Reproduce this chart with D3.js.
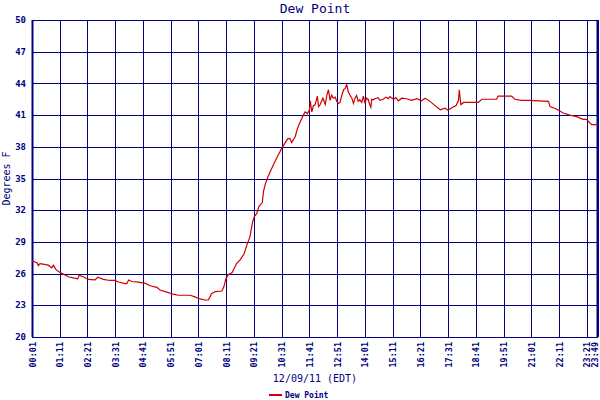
<!DOCTYPE html>
<html>
<head>
<meta charset="utf-8">
<script src="https://cdn.jsdelivr.net/npm/d3@7"></script>
<style>
  body { margin: 0; background: #fff; }
  text { font-family: "DejaVu Sans Mono", monospace; fill: #000080; }
</style>
</head>
<body>
<script>
// readings, time of day (EDT) and dew point in F
var times = ["00:01","00:09","00:14","00:17","00:21","00:29","00:42","00:51","00:55","01:02",
  "01:12","01:20","01:33","01:45","01:56","02:00","02:10","02:23","02:40","02:47",
  "03:01","03:18","03:30","03:39","03:56","04:00","04:05","04:13","04:29","04:46",
  "04:59","05:16","05:24","05:41","05:57","06:10","06:40","06:52","07:05","07:17",
  "07:26","07:34","07:43","08:00","08:05","08:10","08:16","08:26","08:37","08:46",
  "08:56","09:03","09:11","09:17","09:22","09:28","09:34","09:42","09:45","09:49",
  "09:56","10:04","10:14","10:22","10:31","10:39","10:46","10:52","10:56","11:05",
  "11:11","11:17","11:24","11:30","11:36","11:41","11:43","11:47","11:51","11:55",
  "12:01","12:04","12:08","12:15","12:21","12:25","12:29","12:33","12:37","12:41",
  "12:46","12:50","12:54","12:58","13:03","13:07","13:11","13:15","13:19","13:23",
  "13:28","13:32","13:36","13:40","13:44","13:48","13:53","13:57","14:01","14:05",
  "14:09","14:13","14:16","14:18","14:22","14:26","14:34","14:39","14:47","14:54",
  "15:00","15:04","15:13","15:19","15:25","15:34","15:46","15:59","16:12","16:24",
  "16:33","16:45","16:58","17:11","17:23","17:31","17:40","17:51","17:57","17:59",
  "18:03","18:10","18:47","18:56","19:33","19:37","20:11","20:19","20:36","20:57",
  "21:18","21:44","21:48","22:05","22:21","22:38","22:55","23:11","23:20","23:33",
  "23:49"];
var dewPoint = [27.2,27.1,27.0,26.75,26.95,26.9,26.8,26.55,26.8,26.35,
  26.1,25.95,25.7,25.6,25.5,25.85,25.7,25.45,25.4,25.65,
  25.45,25.35,25.35,25.2,25.05,25.05,25.4,25.25,25.2,25.1,
  24.85,24.7,24.45,24.25,24.05,23.95,23.95,23.8,23.6,23.5,
  23.5,24.1,24.3,24.35,24.75,25.5,25.9,26.1,26.95,27.3,
  27.85,28.7,29.5,30.8,31.4,31.7,32.4,32.7,33.75,34.4,
  35.15,35.8,36.6,37.2,37.85,38.35,38.75,38.8,38.4,38.95,
  39.75,40.3,40.9,41.3,41.15,41.5,42.35,41.3,41.9,41.95,
  42.8,41.8,42.0,42.6,42.0,42.9,43.4,42.4,42.9,42.6,
  42.7,42.3,42.1,42.2,42.9,43.4,43.5,43.9,43.2,42.9,
  42.6,42.1,42.6,42.85,42.3,42.45,42.2,42.8,42.1,42.6,
  42.5,42.0,41.75,42.5,42.45,42.55,42.65,42.4,42.5,42.7,
  42.55,42.75,42.5,42.65,42.35,42.6,42.55,42.4,42.55,42.35,
  42.6,42.3,41.9,41.5,41.65,41.45,41.7,41.9,42.4,43.4,
  42.0,42.2,42.2,42.5,42.5,42.8,42.8,42.5,42.4,42.4,
  42.35,42.3,41.8,41.55,41.2,41.0,40.85,40.6,40.6,40.1,
  40.1];

var xTicks = ["00:01","01:11","02:21","03:31","04:41","05:51","07:01","08:11","09:21","10:31",
  "11:41","12:51","14:01","15:11","16:21","17:31","18:41","19:51","21:01","22:11",
  "23:21","23:49"];
var yTicks = [20,23,26,29,32,35,38,41,44,47,50];

var navy = "#000080", red = "#cc0000";

function mins(t) { var p = t.split(":"); return +p[0] * 60 + +p[1]; }

var data = times.map(function(t, i) { return {t: mins(t), v: dewPoint[i]}; });

var margin = {top: 20, right: 2, bottom: 63, left: 32},
    width = 600 - margin.left - margin.right,
    height = 400 - margin.top - margin.bottom;

var x = d3.scaleLinear()
    .domain([mins(xTicks[0]), mins(xTicks[xTicks.length - 1])])
    .range([0, width]);

var y = d3.scaleLinear()
    .domain([20, 50])
    .range([height, 0]);

var svg = d3.select("body").append("svg")
    .attr("width", 600)
    .attr("height", 400)
  .append("g")
    .attr("transform", "translate(" + margin.left + "," + margin.top + ")");

// grid lines
svg.append("g")
    .selectAll("line")
    .data(yTicks)
  .enter().append("line")
    .attr("x1", 0).attr("x2", width)
    .attr("y1", function(d) { return Math.round(y(d)) + 0.5; })
    .attr("y2", function(d) { return Math.round(y(d)) + 0.5; })
    .attr("stroke", navy);

svg.append("g")
    .selectAll("line")
    .data(xTicks)
  .enter().append("line")
    .attr("x1", function(d) { return Math.round(x(mins(d))) + 0.5; })
    .attr("x2", function(d) { return Math.round(x(mins(d))) + 0.5; })
    .attr("y1", 0).attr("y2", height)
    .attr("stroke", navy);

// heavier side borders
svg.append("line").attr("x1", 0.5).attr("x2", 0.5).attr("y1", 0).attr("y2", height)
    .attr("stroke", navy).attr("stroke-width", 2);
svg.append("line").attr("x1", width - 0.5).attr("x2", width - 0.5).attr("y1", 0).attr("y2", height)
    .attr("stroke", navy).attr("stroke-width", 2);

// tick labels
svg.append("g")
    .selectAll("text")
    .data(yTicks)
  .enter().append("text")
    .attr("x", -6)
    .attr("y", function(d) { return y(d); })
    .attr("dy", "0.35em")
    .attr("text-anchor", "end")
    .attr("font-size", 9)
    .attr("font-weight", "bold")
    .text(function(d) { return d; });

svg.append("g")
    .selectAll("text")
    .data(xTicks)
  .enter().append("text")
    .attr("transform", function(d, i) {
      // last label sits on the right border, nudge it inside
      var off = i === xTicks.length - 1 ? -0.5 : 3.5;
      return "translate(" + (x(mins(d)) + off) + "," + (height + 5) + ") rotate(-90)";
    })
    .attr("text-anchor", "end")
    .attr("font-size", 8.5)
    .attr("font-weight", "bold")
    .text(function(d) { return d; });

// data line
var line = d3.line()
    .x(function(d) { return x(d.t); })
    .y(function(d) { return y(d.v); });

svg.append("path")
    .datum(data)
    .attr("fill", "none")
    .attr("stroke", red)
    .attr("stroke-width", 1.2)
    .attr("d", line);

// titles
svg.append("text")
    .attr("x", width / 2)
    .attr("y", -7)
    .attr("text-anchor", "middle")
    .attr("font-size", 13)
    .text("Dew Point");

svg.append("text")
    .attr("x", width / 2)
    .attr("y", height + 45)
    .attr("text-anchor", "middle")
    .attr("font-size", 10)
    .text("12/09/11 (EDT)");

svg.append("text")
    .attr("transform", "translate(-22," + (height / 2) + ") rotate(-90)")
    .attr("text-anchor", "middle")
    .attr("font-size", 10)
    .text("Degrees F");

// legend
var legend = svg.append("g")
    .attr("transform", "translate(237," + (height + 58) + ")");
legend.append("line")
    .attr("x1", 0).attr("x2", 13)
    .attr("stroke", red).attr("stroke-width", 2);
legend.append("text")
    .attr("x", 16)
    .attr("dy", "0.35em")
    .attr("font-size", 8)
    .attr("font-weight", "bold")
    .text("Dew Point");
</script>
</body>
</html>
